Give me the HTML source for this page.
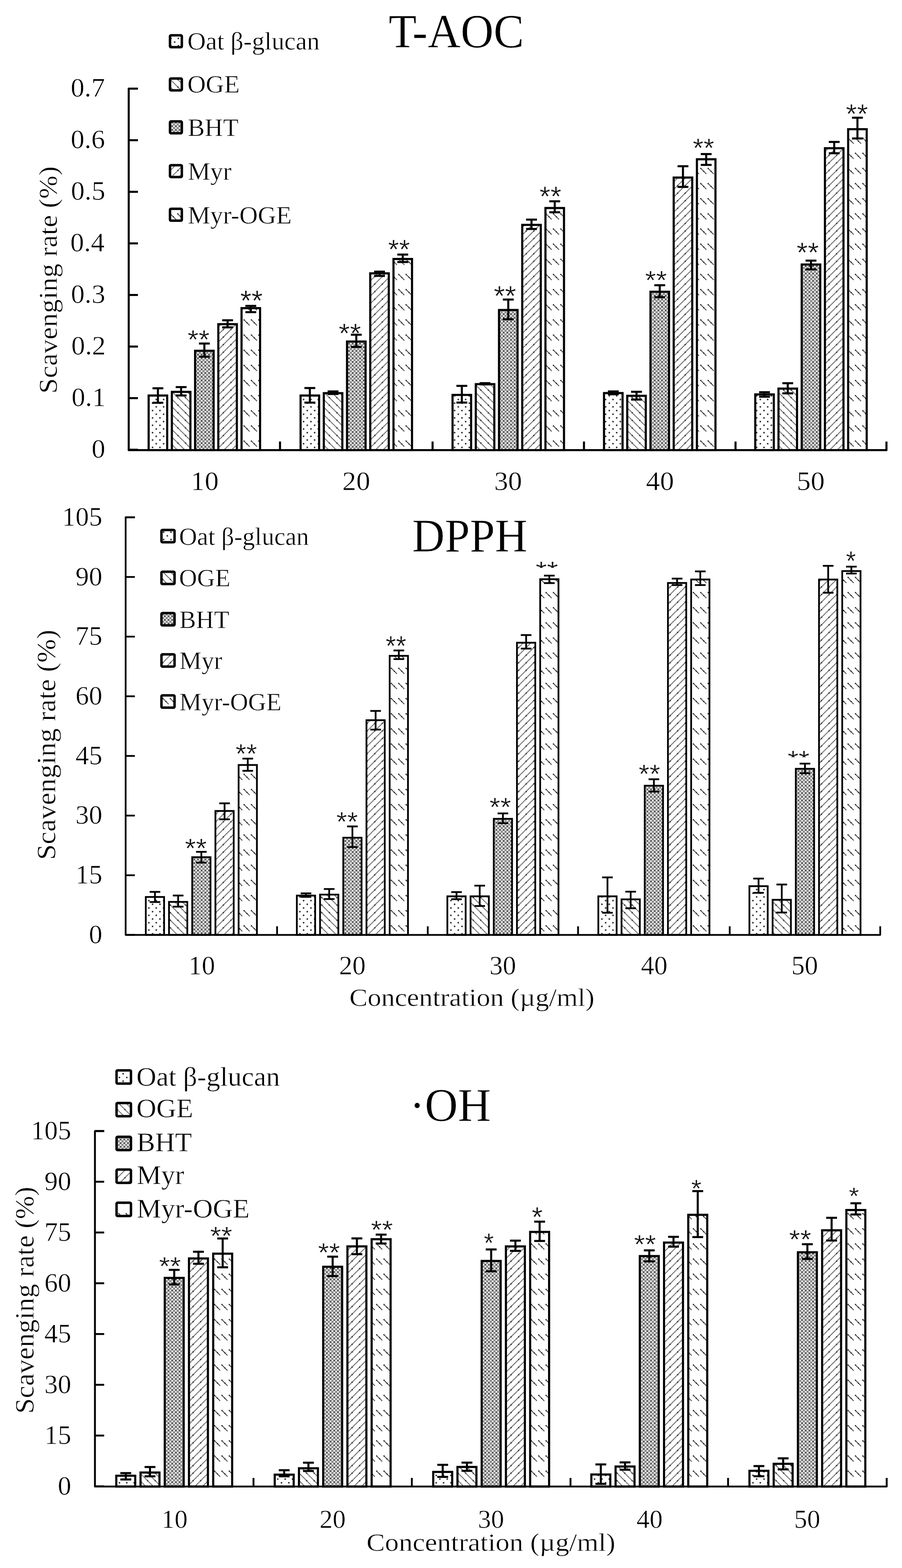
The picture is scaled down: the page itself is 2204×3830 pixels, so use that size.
<!DOCTYPE html>
<html><head><meta charset="utf-8"><title>Antioxidant activity charts</title>
<style>html,body{margin:0;padding:0;background:#fff;}body{width:2204px;height:3830px;overflow:hidden;}svg{display:block;}.s{stroke:#fff;stroke-width:0.7px;}
</style></head>
<body><svg width="2204" height="3830" viewBox="0 0 2204 3830"><defs>
<pattern id="pOat" patternUnits="userSpaceOnUse" width="18" height="18">
 <rect width="18" height="18" fill="#fff"/>
 <rect x="2" y="2" width="3.6" height="3.6" fill="#333"/>
 <rect x="11" y="11" width="3.6" height="3.6" fill="#333"/>
</pattern>
<pattern id="pOGE" patternUnits="userSpaceOnUse" width="18.5" height="18.5">
 <rect width="18.5" height="18.5" fill="#fff"/>
 <path d="M-2,-2 L20.5,20.5 M-2,16.5 L2,20.5 M16.5,-2 L20.5,2" stroke="#6a6a6a" stroke-width="2.2"/>
 <rect x="7.7" y="7.7" width="3.2" height="3.2" fill="#333"/>
</pattern>
<pattern id="pBHT" patternUnits="userSpaceOnUse" width="9" height="9">
 <rect width="9" height="9" fill="#a8a8a8"/>
 <rect x="0.75" y="0.75" width="3" height="3" fill="#fff"/>
 <rect x="5.25" y="5.25" width="3" height="3" fill="#fff"/>
 <rect x="5.25" y="0.75" width="3" height="3" fill="#3a3a3a"/>
 <rect x="0.75" y="5.25" width="3" height="3" fill="#7a7a7a"/>
</pattern>
<pattern id="pMyr" patternUnits="userSpaceOnUse" width="18.5" height="18.5">
 <rect width="18.5" height="18.5" fill="#fff"/>
 <path d="M-2,20.5 L20.5,-2 M-2,2 L2,-2 M16.5,20.5 L20.5,16.5" stroke="#6a6a6a" stroke-width="2.2"/>
 <rect x="7.7" y="7.7" width="3.2" height="3.2" fill="#333"/>
</pattern>
<pattern id="pMO" patternUnits="userSpaceOnUse" width="18" height="37">
 <rect width="18" height="37" fill="#fff"/>
 <path d="M2,4 L16,18" stroke="#555" stroke-width="2.4"/>
 <rect x="0.8" y="2.8" width="3" height="3" fill="#333"/><rect x="8" y="10" width="3" height="3" fill="#333"/>
</pattern>
<clipPath id="clipA"><rect x="1290" y="1340" width="100" height="47"/></clipPath>
<clipPath id="clipB"><rect x="1900" y="1800" width="100" height="49.5"/></clipPath></defs><rect width="2204" height="3830" fill="#fff"/><rect x="363.20" y="966.10" width="45.30" height="133.40" fill="url(#pOat)" stroke="#000" stroke-width="5.2"/>
<rect x="419.95" y="957.20" width="45.30" height="142.30" fill="url(#pOGE)" stroke="#000" stroke-width="5.2"/>
<rect x="476.70" y="856.80" width="45.30" height="242.70" fill="url(#pBHT)" stroke="#000" stroke-width="5.2"/>
<rect x="533.45" y="791.80" width="45.30" height="307.70" fill="url(#pMyr)" stroke="#000" stroke-width="5.2"/>
<rect x="590.20" y="752.70" width="45.30" height="346.80" fill="url(#pMO)" stroke="#000" stroke-width="5.2"/>
<line x1="385.85" y1="948.40" x2="385.85" y2="983.80" stroke="#000" stroke-width="5" stroke-linecap="butt"/>
<line x1="372.60" y1="948.40" x2="399.10" y2="948.40" stroke="#000" stroke-width="5" stroke-linecap="butt"/>
<line x1="372.60" y1="983.80" x2="399.10" y2="983.80" stroke="#000" stroke-width="5" stroke-linecap="butt"/>
<line x1="442.60" y1="945.50" x2="442.60" y2="966.00" stroke="#000" stroke-width="5" stroke-linecap="butt"/>
<line x1="429.35" y1="945.50" x2="455.85" y2="945.50" stroke="#000" stroke-width="5" stroke-linecap="butt"/>
<line x1="429.35" y1="966.00" x2="455.85" y2="966.00" stroke="#000" stroke-width="5" stroke-linecap="butt"/>
<line x1="499.35" y1="839.10" x2="499.35" y2="871.30" stroke="#000" stroke-width="5" stroke-linecap="butt"/>
<line x1="486.10" y1="839.10" x2="512.60" y2="839.10" stroke="#000" stroke-width="5" stroke-linecap="butt"/>
<line x1="486.10" y1="871.30" x2="512.60" y2="871.30" stroke="#000" stroke-width="5" stroke-linecap="butt"/>
<line x1="556.10" y1="782.30" x2="556.10" y2="799.60" stroke="#000" stroke-width="5" stroke-linecap="butt"/>
<line x1="542.85" y1="782.30" x2="569.35" y2="782.30" stroke="#000" stroke-width="5" stroke-linecap="butt"/>
<line x1="542.85" y1="799.60" x2="569.35" y2="799.60" stroke="#000" stroke-width="5" stroke-linecap="butt"/>
<line x1="612.85" y1="747.20" x2="612.85" y2="762.50" stroke="#000" stroke-width="5" stroke-linecap="butt"/>
<line x1="599.60" y1="747.20" x2="626.10" y2="747.20" stroke="#000" stroke-width="5" stroke-linecap="butt"/>
<line x1="599.60" y1="762.50" x2="626.10" y2="762.50" stroke="#000" stroke-width="5" stroke-linecap="butt"/>
<rect x="734.45" y="966.10" width="45.30" height="133.40" fill="url(#pOat)" stroke="#000" stroke-width="5.2"/>
<rect x="791.20" y="960.30" width="45.30" height="139.20" fill="url(#pOGE)" stroke="#000" stroke-width="5.2"/>
<rect x="847.95" y="834.20" width="45.30" height="265.30" fill="url(#pBHT)" stroke="#000" stroke-width="5.2"/>
<rect x="904.70" y="667.70" width="45.30" height="431.80" fill="url(#pMyr)" stroke="#000" stroke-width="5.2"/>
<rect x="961.45" y="632.60" width="45.30" height="466.90" fill="url(#pMO)" stroke="#000" stroke-width="5.2"/>
<line x1="757.10" y1="947.80" x2="757.10" y2="983.40" stroke="#000" stroke-width="5" stroke-linecap="butt"/>
<line x1="743.85" y1="947.80" x2="770.35" y2="947.80" stroke="#000" stroke-width="5" stroke-linecap="butt"/>
<line x1="743.85" y1="983.40" x2="770.35" y2="983.40" stroke="#000" stroke-width="5" stroke-linecap="butt"/>
<line x1="813.85" y1="956.10" x2="813.85" y2="962.40" stroke="#000" stroke-width="5" stroke-linecap="butt"/>
<line x1="800.60" y1="956.10" x2="827.10" y2="956.10" stroke="#000" stroke-width="5" stroke-linecap="butt"/>
<line x1="800.60" y1="962.40" x2="827.10" y2="962.40" stroke="#000" stroke-width="5" stroke-linecap="butt"/>
<line x1="870.60" y1="817.60" x2="870.60" y2="847.40" stroke="#000" stroke-width="5" stroke-linecap="butt"/>
<line x1="857.35" y1="817.60" x2="883.85" y2="817.60" stroke="#000" stroke-width="5" stroke-linecap="butt"/>
<line x1="857.35" y1="847.40" x2="883.85" y2="847.40" stroke="#000" stroke-width="5" stroke-linecap="butt"/>
<line x1="927.35" y1="663.50" x2="927.35" y2="673.90" stroke="#000" stroke-width="5" stroke-linecap="butt"/>
<line x1="914.10" y1="663.50" x2="940.60" y2="663.50" stroke="#000" stroke-width="5" stroke-linecap="butt"/>
<line x1="914.10" y1="673.90" x2="940.60" y2="673.90" stroke="#000" stroke-width="5" stroke-linecap="butt"/>
<line x1="984.10" y1="621.80" x2="984.10" y2="640.00" stroke="#000" stroke-width="5" stroke-linecap="butt"/>
<line x1="970.85" y1="621.80" x2="997.35" y2="621.80" stroke="#000" stroke-width="5" stroke-linecap="butt"/>
<line x1="970.85" y1="640.00" x2="997.35" y2="640.00" stroke="#000" stroke-width="5" stroke-linecap="butt"/>
<rect x="1105.80" y="964.60" width="45.30" height="134.90" fill="url(#pOat)" stroke="#000" stroke-width="5.2"/>
<rect x="1162.55" y="938.30" width="45.30" height="161.20" fill="url(#pOGE)" stroke="#000" stroke-width="5.2"/>
<rect x="1219.30" y="757.20" width="45.30" height="342.30" fill="url(#pBHT)" stroke="#000" stroke-width="5.2"/>
<rect x="1276.05" y="549.30" width="45.30" height="550.20" fill="url(#pMyr)" stroke="#000" stroke-width="5.2"/>
<rect x="1332.80" y="508.10" width="45.30" height="591.40" fill="url(#pMO)" stroke="#000" stroke-width="5.2"/>
<line x1="1128.45" y1="942.50" x2="1128.45" y2="983.30" stroke="#000" stroke-width="5" stroke-linecap="butt"/>
<line x1="1115.20" y1="942.50" x2="1141.70" y2="942.50" stroke="#000" stroke-width="5" stroke-linecap="butt"/>
<line x1="1115.20" y1="983.30" x2="1141.70" y2="983.30" stroke="#000" stroke-width="5" stroke-linecap="butt"/>
<line x1="1185.20" y1="935.90" x2="1185.20" y2="938.90" stroke="#000" stroke-width="5" stroke-linecap="butt"/>
<line x1="1171.95" y1="935.90" x2="1198.45" y2="935.90" stroke="#000" stroke-width="5" stroke-linecap="butt"/>
<line x1="1171.95" y1="938.90" x2="1198.45" y2="938.90" stroke="#000" stroke-width="5" stroke-linecap="butt"/>
<line x1="1241.95" y1="731.70" x2="1241.95" y2="779.80" stroke="#000" stroke-width="5" stroke-linecap="butt"/>
<line x1="1228.70" y1="731.70" x2="1255.20" y2="731.70" stroke="#000" stroke-width="5" stroke-linecap="butt"/>
<line x1="1228.70" y1="779.80" x2="1255.20" y2="779.80" stroke="#000" stroke-width="5" stroke-linecap="butt"/>
<line x1="1298.70" y1="536.40" x2="1298.70" y2="559.30" stroke="#000" stroke-width="5" stroke-linecap="butt"/>
<line x1="1285.45" y1="536.40" x2="1311.95" y2="536.40" stroke="#000" stroke-width="5" stroke-linecap="butt"/>
<line x1="1285.45" y1="559.30" x2="1311.95" y2="559.30" stroke="#000" stroke-width="5" stroke-linecap="butt"/>
<line x1="1355.45" y1="491.70" x2="1355.45" y2="518.50" stroke="#000" stroke-width="5" stroke-linecap="butt"/>
<line x1="1342.20" y1="491.70" x2="1368.70" y2="491.70" stroke="#000" stroke-width="5" stroke-linecap="butt"/>
<line x1="1342.20" y1="518.50" x2="1368.70" y2="518.50" stroke="#000" stroke-width="5" stroke-linecap="butt"/>
<rect x="1475.90" y="960.10" width="45.30" height="139.40" fill="url(#pOat)" stroke="#000" stroke-width="5.2"/>
<rect x="1532.65" y="966.80" width="45.30" height="132.70" fill="url(#pOGE)" stroke="#000" stroke-width="5.2"/>
<rect x="1589.40" y="712.60" width="45.30" height="386.90" fill="url(#pBHT)" stroke="#000" stroke-width="5.2"/>
<rect x="1646.15" y="433.70" width="45.30" height="665.80" fill="url(#pMyr)" stroke="#000" stroke-width="5.2"/>
<rect x="1702.90" y="389.00" width="45.30" height="710.50" fill="url(#pMO)" stroke="#000" stroke-width="5.2"/>
<line x1="1498.55" y1="956.10" x2="1498.55" y2="963.00" stroke="#000" stroke-width="5" stroke-linecap="butt"/>
<line x1="1485.30" y1="956.10" x2="1511.80" y2="956.10" stroke="#000" stroke-width="5" stroke-linecap="butt"/>
<line x1="1485.30" y1="963.00" x2="1511.80" y2="963.00" stroke="#000" stroke-width="5" stroke-linecap="butt"/>
<line x1="1555.30" y1="957.00" x2="1555.30" y2="976.00" stroke="#000" stroke-width="5" stroke-linecap="butt"/>
<line x1="1542.05" y1="957.00" x2="1568.55" y2="957.00" stroke="#000" stroke-width="5" stroke-linecap="butt"/>
<line x1="1542.05" y1="976.00" x2="1568.55" y2="976.00" stroke="#000" stroke-width="5" stroke-linecap="butt"/>
<line x1="1612.05" y1="696.70" x2="1612.05" y2="725.90" stroke="#000" stroke-width="5" stroke-linecap="butt"/>
<line x1="1598.80" y1="696.70" x2="1625.30" y2="696.70" stroke="#000" stroke-width="5" stroke-linecap="butt"/>
<line x1="1598.80" y1="725.90" x2="1625.30" y2="725.90" stroke="#000" stroke-width="5" stroke-linecap="butt"/>
<line x1="1668.80" y1="406.00" x2="1668.80" y2="456.60" stroke="#000" stroke-width="5" stroke-linecap="butt"/>
<line x1="1655.55" y1="406.00" x2="1682.05" y2="406.00" stroke="#000" stroke-width="5" stroke-linecap="butt"/>
<line x1="1655.55" y1="456.60" x2="1682.05" y2="456.60" stroke="#000" stroke-width="5" stroke-linecap="butt"/>
<line x1="1725.55" y1="376.30" x2="1725.55" y2="402.80" stroke="#000" stroke-width="5" stroke-linecap="butt"/>
<line x1="1712.30" y1="376.30" x2="1738.80" y2="376.30" stroke="#000" stroke-width="5" stroke-linecap="butt"/>
<line x1="1712.30" y1="402.80" x2="1738.80" y2="402.80" stroke="#000" stroke-width="5" stroke-linecap="butt"/>
<rect x="1845.45" y="963.40" width="45.30" height="136.10" fill="url(#pOat)" stroke="#000" stroke-width="5.2"/>
<rect x="1902.20" y="949.20" width="45.30" height="150.30" fill="url(#pOGE)" stroke="#000" stroke-width="5.2"/>
<rect x="1958.95" y="646.10" width="45.30" height="453.40" fill="url(#pBHT)" stroke="#000" stroke-width="5.2"/>
<rect x="2015.70" y="362.00" width="45.30" height="737.50" fill="url(#pMyr)" stroke="#000" stroke-width="5.2"/>
<rect x="2072.45" y="315.60" width="45.30" height="783.90" fill="url(#pMO)" stroke="#000" stroke-width="5.2"/>
<line x1="1868.10" y1="958.00" x2="1868.10" y2="969.00" stroke="#000" stroke-width="5" stroke-linecap="butt"/>
<line x1="1854.85" y1="958.00" x2="1881.35" y2="958.00" stroke="#000" stroke-width="5" stroke-linecap="butt"/>
<line x1="1854.85" y1="969.00" x2="1881.35" y2="969.00" stroke="#000" stroke-width="5" stroke-linecap="butt"/>
<line x1="1924.85" y1="936.00" x2="1924.85" y2="960.80" stroke="#000" stroke-width="5" stroke-linecap="butt"/>
<line x1="1911.60" y1="936.00" x2="1938.10" y2="936.00" stroke="#000" stroke-width="5" stroke-linecap="butt"/>
<line x1="1911.60" y1="960.80" x2="1938.10" y2="960.80" stroke="#000" stroke-width="5" stroke-linecap="butt"/>
<line x1="1981.60" y1="636.60" x2="1981.60" y2="657.90" stroke="#000" stroke-width="5" stroke-linecap="butt"/>
<line x1="1968.35" y1="636.60" x2="1994.85" y2="636.60" stroke="#000" stroke-width="5" stroke-linecap="butt"/>
<line x1="1968.35" y1="657.90" x2="1994.85" y2="657.90" stroke="#000" stroke-width="5" stroke-linecap="butt"/>
<line x1="2038.35" y1="346.70" x2="2038.35" y2="374.30" stroke="#000" stroke-width="5" stroke-linecap="butt"/>
<line x1="2025.10" y1="346.70" x2="2051.60" y2="346.70" stroke="#000" stroke-width="5" stroke-linecap="butt"/>
<line x1="2025.10" y1="374.30" x2="2051.60" y2="374.30" stroke="#000" stroke-width="5" stroke-linecap="butt"/>
<line x1="2095.10" y1="287.50" x2="2095.10" y2="338.20" stroke="#000" stroke-width="5" stroke-linecap="butt"/>
<line x1="2081.85" y1="287.50" x2="2108.35" y2="287.50" stroke="#000" stroke-width="5" stroke-linecap="butt"/>
<line x1="2081.85" y1="338.20" x2="2108.35" y2="338.20" stroke="#000" stroke-width="5" stroke-linecap="butt"/>
<path d="M337.00,216.50 L314.50,216.50 L314.50,1099.50 L2166.00,1099.50 L2166.00,1078.50" fill="none" stroke="#000" stroke-width="5" stroke-linejoin="round"/>
<line x1="314.50" y1="1098.50" x2="337.00" y2="1098.50" stroke="#000" stroke-width="5" stroke-linecap="butt"/>
<line x1="314.50" y1="972.50" x2="337.00" y2="972.50" stroke="#000" stroke-width="5" stroke-linecap="butt"/>
<line x1="314.50" y1="846.50" x2="337.00" y2="846.50" stroke="#000" stroke-width="5" stroke-linecap="butt"/>
<line x1="314.50" y1="720.50" x2="337.00" y2="720.50" stroke="#000" stroke-width="5" stroke-linecap="butt"/>
<line x1="314.50" y1="594.50" x2="337.00" y2="594.50" stroke="#000" stroke-width="5" stroke-linecap="butt"/>
<line x1="314.50" y1="468.50" x2="337.00" y2="468.50" stroke="#000" stroke-width="5" stroke-linecap="butt"/>
<line x1="314.50" y1="342.50" x2="337.00" y2="342.50" stroke="#000" stroke-width="5" stroke-linecap="butt"/>
<line x1="314.50" y1="216.50" x2="337.00" y2="216.50" stroke="#000" stroke-width="5" stroke-linecap="butt"/>
<line x1="684.20" y1="1099.50" x2="684.20" y2="1078.50" stroke="#000" stroke-width="5" stroke-linecap="butt"/>
<line x1="1057.00" y1="1099.50" x2="1057.00" y2="1078.50" stroke="#000" stroke-width="5" stroke-linecap="butt"/>
<line x1="1426.90" y1="1099.50" x2="1426.90" y2="1078.50" stroke="#000" stroke-width="5" stroke-linecap="butt"/>
<line x1="1797.20" y1="1099.50" x2="1797.20" y2="1078.50" stroke="#000" stroke-width="5" stroke-linecap="butt"/>
<text class="s" transform="translate(223.64,1118.46) scale(1.0400,1)" font-family='"Liberation Serif",serif' font-size="64.50">0</text>
<text class="s" transform="translate(174.67,992.46) scale(1.0400,1)" font-family='"Liberation Serif",serif' font-size="64.50">0.1</text>
<text class="s" transform="translate(174.34,866.46) scale(1.0400,1)" font-family='"Liberation Serif",serif' font-size="64.50">0.2</text>
<text class="s" transform="translate(173.33,740.46) scale(1.0400,1)" font-family='"Liberation Serif",serif' font-size="64.50">0.3</text>
<text class="s" transform="translate(171.66,614.46) scale(1.0400,1)" font-family='"Liberation Serif",serif' font-size="64.50">0.4</text>
<text class="s" transform="translate(173.33,488.46) scale(1.0400,1)" font-family='"Liberation Serif",serif' font-size="64.50">0.5</text>
<text class="s" transform="translate(172.66,362.46) scale(1.0400,1)" font-family='"Liberation Serif",serif' font-size="64.50">0.6</text>
<text class="s" transform="translate(172.66,236.46) scale(1.0400,1)" font-family='"Liberation Serif",serif' font-size="64.50">0.7</text>
<text class="s" transform="translate(466.02,1196.50) scale(1.0500,1)" font-family='"Liberation Serif",serif' font-size="65.00">10</text>
<text class="s" transform="translate(836.30,1196.50) scale(1.0500,1)" font-family='"Liberation Serif",serif' font-size="65.00">20</text>
<text class="s" transform="translate(1207.48,1196.50) scale(1.0500,1)" font-family='"Liberation Serif",serif' font-size="65.00">30</text>
<text class="s" transform="translate(1578.61,1196.50) scale(1.0500,1)" font-family='"Liberation Serif",serif' font-size="65.00">40</text>
<text class="s" transform="translate(1946.79,1196.50) scale(1.0500,1)" font-family='"Liberation Serif",serif' font-size="65.00">50</text>
<text transform="translate(458.32,851.55) scale(1.0647,1)" font-family='"Liberation Sans",sans-serif' font-size="64.86" fill="#111" stroke="#fff" stroke-width="0.6">**</text>
<text transform="translate(586.89,759.20) scale(1.0138,1)" font-family='"Liberation Sans",sans-serif' font-size="69.71" fill="#111" stroke="#fff" stroke-width="0.6">**</text>
<text transform="translate(827.60,837.14) scale(1.0627,1)" font-family='"Liberation Sans",sans-serif' font-size="66.00" fill="#111" stroke="#fff" stroke-width="0.6">**</text>
<text transform="translate(948.23,632.14) scale(1.0401,1)" font-family='"Liberation Sans",sans-serif' font-size="66.00" fill="#111" stroke="#fff" stroke-width="0.6">**</text>
<text transform="translate(1206.39,746.32) scale(1.0334,1)" font-family='"Liberation Sans",sans-serif' font-size="68.00" fill="#111" stroke="#fff" stroke-width="0.6">**</text>
<text transform="translate(1318.34,503.22) scale(1.0078,1)" font-family='"Liberation Sans",sans-serif' font-size="67.71" fill="#111" stroke="#fff" stroke-width="0.6">**</text>
<text transform="translate(1576.23,707.25) scale(1.0471,1)" font-family='"Liberation Sans",sans-serif' font-size="65.43" fill="#111" stroke="#fff" stroke-width="0.6">**</text>
<text transform="translate(1692.75,384.25) scale(1.0306,1)" font-family='"Liberation Sans",sans-serif' font-size="65.43" fill="#111" stroke="#fff" stroke-width="0.6">**</text>
<text transform="translate(1946.61,639.72) scale(1.0234,1)" font-family='"Liberation Sans",sans-serif' font-size="68.00" fill="#111" stroke="#fff" stroke-width="0.6">**</text>
<text transform="translate(2066.81,301.43) scale(1.0409,1)" font-family='"Liberation Sans",sans-serif' font-size="66.86" fill="#111" stroke="#fff" stroke-width="0.6">**</text>
<rect x="415.40" y="86.30" width="28.90" height="29.00" fill="url(#pOat)" stroke="#000" stroke-width="6" rx="2.5"/>
<text class="s" transform="translate(458.02,121.20) scale(1.0100,1)" font-family='"Liberation Serif",serif' font-size="61.50">Oat β-glucan</text>
<rect x="415.40" y="191.70" width="28.90" height="29.00" fill="url(#pOGE)" stroke="#000" stroke-width="6" rx="2.5"/>
<text class="s" transform="translate(458.02,226.00) scale(1.0100,1)" font-family='"Liberation Serif",serif' font-size="61.50">OGE</text>
<rect x="415.40" y="296.60" width="28.90" height="29.00" fill="url(#pBHT)" stroke="#000" stroke-width="6" rx="2.5"/>
<text class="s" transform="translate(458.64,332.40) scale(1.0100,1)" font-family='"Liberation Serif",serif' font-size="61.50">BHT</text>
<rect x="415.40" y="403.40" width="28.90" height="29.00" fill="url(#pMyr)" stroke="#000" stroke-width="6" rx="2.5"/>
<text class="s" transform="translate(458.64,439.00) scale(1.0100,1)" font-family='"Liberation Serif",serif' font-size="61.50">Myr</text>
<rect x="415.40" y="510.00" width="28.90" height="29.00" fill="url(#pMO)" stroke="#000" stroke-width="6" rx="2.5"/>
<text class="s" transform="translate(458.64,545.60) scale(1.0100,1)" font-family='"Liberation Serif",serif' font-size="61.50">Myr-OGE</text>
<text class="s" transform="translate(949.87,115.90) scale(0.9551,1)" font-family='"Liberation Serif",serif' font-size="116.82">T-AOC</text>
<text class="s" transform="translate(138.50,961.42) rotate(-90) scale(1.0630,1)" font-family='"Liberation Serif",serif' font-size="64.00">Scavenging rate (%)</text>
<rect x="356.25" y="2190.95" width="44.70" height="92.65" fill="url(#pOat)" stroke="#000" stroke-width="4.3"/>
<rect x="412.95" y="2202.95" width="44.70" height="80.65" fill="url(#pOGE)" stroke="#000" stroke-width="4.3"/>
<rect x="469.65" y="2093.75" width="44.70" height="189.85" fill="url(#pBHT)" stroke="#000" stroke-width="4.3"/>
<rect x="526.35" y="1980.85" width="44.70" height="302.75" fill="url(#pMyr)" stroke="#000" stroke-width="4.3"/>
<rect x="583.05" y="1868.55" width="44.70" height="415.05" fill="url(#pMO)" stroke="#000" stroke-width="4.3"/>
<line x1="378.60" y1="2178.50" x2="378.60" y2="2203.30" stroke="#000" stroke-width="4.3" stroke-linecap="butt"/>
<line x1="365.60" y1="2178.50" x2="391.60" y2="2178.50" stroke="#000" stroke-width="4.3" stroke-linecap="butt"/>
<line x1="365.60" y1="2203.30" x2="391.60" y2="2203.30" stroke="#000" stroke-width="4.3" stroke-linecap="butt"/>
<line x1="435.30" y1="2187.40" x2="435.30" y2="2214.60" stroke="#000" stroke-width="4.3" stroke-linecap="butt"/>
<line x1="422.30" y1="2187.40" x2="448.30" y2="2187.40" stroke="#000" stroke-width="4.3" stroke-linecap="butt"/>
<line x1="422.30" y1="2214.60" x2="448.30" y2="2214.60" stroke="#000" stroke-width="4.3" stroke-linecap="butt"/>
<line x1="492.00" y1="2080.70" x2="492.00" y2="2107.00" stroke="#000" stroke-width="4.3" stroke-linecap="butt"/>
<line x1="479.00" y1="2080.70" x2="505.00" y2="2080.70" stroke="#000" stroke-width="4.3" stroke-linecap="butt"/>
<line x1="479.00" y1="2107.00" x2="505.00" y2="2107.00" stroke="#000" stroke-width="4.3" stroke-linecap="butt"/>
<line x1="548.70" y1="1962.20" x2="548.70" y2="2001.30" stroke="#000" stroke-width="4.3" stroke-linecap="butt"/>
<line x1="535.70" y1="1962.20" x2="561.70" y2="1962.20" stroke="#000" stroke-width="4.3" stroke-linecap="butt"/>
<line x1="535.70" y1="2001.30" x2="561.70" y2="2001.30" stroke="#000" stroke-width="4.3" stroke-linecap="butt"/>
<line x1="605.40" y1="1853.00" x2="605.40" y2="1882.80" stroke="#000" stroke-width="4.3" stroke-linecap="butt"/>
<line x1="592.40" y1="1853.00" x2="618.40" y2="1853.00" stroke="#000" stroke-width="4.3" stroke-linecap="butt"/>
<line x1="592.40" y1="1882.80" x2="618.40" y2="1882.80" stroke="#000" stroke-width="4.3" stroke-linecap="butt"/>
<rect x="725.35" y="2187.55" width="44.70" height="96.05" fill="url(#pOat)" stroke="#000" stroke-width="4.3"/>
<rect x="782.05" y="2185.15" width="44.70" height="98.45" fill="url(#pOGE)" stroke="#000" stroke-width="4.3"/>
<rect x="838.75" y="2046.15" width="44.70" height="237.45" fill="url(#pBHT)" stroke="#000" stroke-width="4.3"/>
<rect x="895.45" y="1759.15" width="44.70" height="524.45" fill="url(#pMyr)" stroke="#000" stroke-width="4.3"/>
<rect x="952.15" y="1601.95" width="44.70" height="681.65" fill="url(#pMO)" stroke="#000" stroke-width="4.3"/>
<line x1="747.70" y1="2182.10" x2="747.70" y2="2190.70" stroke="#000" stroke-width="4.3" stroke-linecap="butt"/>
<line x1="734.70" y1="2182.10" x2="760.70" y2="2182.10" stroke="#000" stroke-width="4.3" stroke-linecap="butt"/>
<line x1="734.70" y1="2190.70" x2="760.70" y2="2190.70" stroke="#000" stroke-width="4.3" stroke-linecap="butt"/>
<line x1="804.40" y1="2171.50" x2="804.40" y2="2196.00" stroke="#000" stroke-width="4.3" stroke-linecap="butt"/>
<line x1="791.40" y1="2171.50" x2="817.40" y2="2171.50" stroke="#000" stroke-width="4.3" stroke-linecap="butt"/>
<line x1="791.40" y1="2196.00" x2="817.40" y2="2196.00" stroke="#000" stroke-width="4.3" stroke-linecap="butt"/>
<line x1="861.10" y1="2018.60" x2="861.10" y2="2069.10" stroke="#000" stroke-width="4.3" stroke-linecap="butt"/>
<line x1="848.10" y1="2018.60" x2="874.10" y2="2018.60" stroke="#000" stroke-width="4.3" stroke-linecap="butt"/>
<line x1="848.10" y1="2069.10" x2="874.10" y2="2069.10" stroke="#000" stroke-width="4.3" stroke-linecap="butt"/>
<line x1="917.80" y1="1736.50" x2="917.80" y2="1782.10" stroke="#000" stroke-width="4.3" stroke-linecap="butt"/>
<line x1="904.80" y1="1736.50" x2="930.80" y2="1736.50" stroke="#000" stroke-width="4.3" stroke-linecap="butt"/>
<line x1="904.80" y1="1782.10" x2="930.80" y2="1782.10" stroke="#000" stroke-width="4.3" stroke-linecap="butt"/>
<line x1="974.50" y1="1588.80" x2="974.50" y2="1609.90" stroke="#000" stroke-width="4.3" stroke-linecap="butt"/>
<line x1="961.50" y1="1588.80" x2="987.50" y2="1588.80" stroke="#000" stroke-width="4.3" stroke-linecap="butt"/>
<line x1="961.50" y1="1609.90" x2="987.50" y2="1609.90" stroke="#000" stroke-width="4.3" stroke-linecap="butt"/>
<rect x="1093.10" y="2189.35" width="44.70" height="94.25" fill="url(#pOat)" stroke="#000" stroke-width="4.3"/>
<rect x="1149.80" y="2189.35" width="44.70" height="94.25" fill="url(#pOGE)" stroke="#000" stroke-width="4.3"/>
<rect x="1206.50" y="2000.05" width="44.70" height="283.55" fill="url(#pBHT)" stroke="#000" stroke-width="4.3"/>
<rect x="1263.20" y="1569.85" width="44.70" height="713.75" fill="url(#pMyr)" stroke="#000" stroke-width="4.3"/>
<rect x="1319.90" y="1414.75" width="44.70" height="868.85" fill="url(#pMO)" stroke="#000" stroke-width="4.3"/>
<line x1="1115.45" y1="2179.00" x2="1115.45" y2="2196.40" stroke="#000" stroke-width="4.3" stroke-linecap="butt"/>
<line x1="1102.45" y1="2179.00" x2="1128.45" y2="2179.00" stroke="#000" stroke-width="4.3" stroke-linecap="butt"/>
<line x1="1102.45" y1="2196.40" x2="1128.45" y2="2196.40" stroke="#000" stroke-width="4.3" stroke-linecap="butt"/>
<line x1="1172.15" y1="2163.30" x2="1172.15" y2="2213.00" stroke="#000" stroke-width="4.3" stroke-linecap="butt"/>
<line x1="1159.15" y1="2163.30" x2="1185.15" y2="2163.30" stroke="#000" stroke-width="4.3" stroke-linecap="butt"/>
<line x1="1159.15" y1="2213.00" x2="1185.15" y2="2213.00" stroke="#000" stroke-width="4.3" stroke-linecap="butt"/>
<line x1="1228.85" y1="1986.80" x2="1228.85" y2="2010.70" stroke="#000" stroke-width="4.3" stroke-linecap="butt"/>
<line x1="1215.85" y1="1986.80" x2="1241.85" y2="1986.80" stroke="#000" stroke-width="4.3" stroke-linecap="butt"/>
<line x1="1215.85" y1="2010.70" x2="1241.85" y2="2010.70" stroke="#000" stroke-width="4.3" stroke-linecap="butt"/>
<line x1="1285.55" y1="1551.20" x2="1285.55" y2="1584.30" stroke="#000" stroke-width="4.3" stroke-linecap="butt"/>
<line x1="1272.55" y1="1551.20" x2="1298.55" y2="1551.20" stroke="#000" stroke-width="4.3" stroke-linecap="butt"/>
<line x1="1272.55" y1="1584.30" x2="1298.55" y2="1584.30" stroke="#000" stroke-width="4.3" stroke-linecap="butt"/>
<line x1="1342.25" y1="1406.00" x2="1342.25" y2="1424.30" stroke="#000" stroke-width="4.3" stroke-linecap="butt"/>
<line x1="1329.25" y1="1406.00" x2="1355.25" y2="1406.00" stroke="#000" stroke-width="4.3" stroke-linecap="butt"/>
<line x1="1329.25" y1="1424.30" x2="1355.25" y2="1424.30" stroke="#000" stroke-width="4.3" stroke-linecap="butt"/>
<rect x="1462.00" y="2189.35" width="44.70" height="94.25" fill="url(#pOat)" stroke="#000" stroke-width="4.3"/>
<rect x="1518.70" y="2196.75" width="44.70" height="86.85" fill="url(#pOGE)" stroke="#000" stroke-width="4.3"/>
<rect x="1575.40" y="1919.15" width="44.70" height="364.45" fill="url(#pBHT)" stroke="#000" stroke-width="4.3"/>
<rect x="1632.10" y="1423.95" width="44.70" height="859.65" fill="url(#pMyr)" stroke="#000" stroke-width="4.3"/>
<rect x="1688.80" y="1415.45" width="44.70" height="868.15" fill="url(#pMO)" stroke="#000" stroke-width="4.3"/>
<line x1="1484.35" y1="2143.10" x2="1484.35" y2="2229.50" stroke="#000" stroke-width="4.3" stroke-linecap="butt"/>
<line x1="1471.35" y1="2143.10" x2="1497.35" y2="2143.10" stroke="#000" stroke-width="4.3" stroke-linecap="butt"/>
<line x1="1471.35" y1="2229.50" x2="1497.35" y2="2229.50" stroke="#000" stroke-width="4.3" stroke-linecap="butt"/>
<line x1="1541.05" y1="2178.00" x2="1541.05" y2="2218.50" stroke="#000" stroke-width="4.3" stroke-linecap="butt"/>
<line x1="1528.05" y1="2178.00" x2="1554.05" y2="2178.00" stroke="#000" stroke-width="4.3" stroke-linecap="butt"/>
<line x1="1528.05" y1="2218.50" x2="1554.05" y2="2218.50" stroke="#000" stroke-width="4.3" stroke-linecap="butt"/>
<line x1="1597.75" y1="1903.40" x2="1597.75" y2="1933.50" stroke="#000" stroke-width="4.3" stroke-linecap="butt"/>
<line x1="1584.75" y1="1903.40" x2="1610.75" y2="1903.40" stroke="#000" stroke-width="4.3" stroke-linecap="butt"/>
<line x1="1584.75" y1="1933.50" x2="1610.75" y2="1933.50" stroke="#000" stroke-width="4.3" stroke-linecap="butt"/>
<line x1="1654.45" y1="1413.30" x2="1654.45" y2="1429.10" stroke="#000" stroke-width="4.3" stroke-linecap="butt"/>
<line x1="1641.45" y1="1413.30" x2="1667.45" y2="1413.30" stroke="#000" stroke-width="4.3" stroke-linecap="butt"/>
<line x1="1641.45" y1="1429.10" x2="1667.45" y2="1429.10" stroke="#000" stroke-width="4.3" stroke-linecap="butt"/>
<line x1="1711.15" y1="1395.70" x2="1711.15" y2="1429.10" stroke="#000" stroke-width="4.3" stroke-linecap="butt"/>
<line x1="1698.15" y1="1395.70" x2="1724.15" y2="1395.70" stroke="#000" stroke-width="4.3" stroke-linecap="butt"/>
<line x1="1698.15" y1="1429.10" x2="1724.15" y2="1429.10" stroke="#000" stroke-width="4.3" stroke-linecap="butt"/>
<rect x="1831.15" y="2164.55" width="44.70" height="119.05" fill="url(#pOat)" stroke="#000" stroke-width="4.3"/>
<rect x="1887.85" y="2197.85" width="44.70" height="85.75" fill="url(#pOGE)" stroke="#000" stroke-width="4.3"/>
<rect x="1944.55" y="1877.85" width="44.70" height="405.75" fill="url(#pBHT)" stroke="#000" stroke-width="4.3"/>
<rect x="2001.25" y="1415.55" width="44.70" height="868.05" fill="url(#pMyr)" stroke="#000" stroke-width="4.3"/>
<rect x="2057.95" y="1394.85" width="44.70" height="888.75" fill="url(#pMO)" stroke="#000" stroke-width="4.3"/>
<line x1="1853.50" y1="2146.00" x2="1853.50" y2="2180.80" stroke="#000" stroke-width="4.3" stroke-linecap="butt"/>
<line x1="1840.50" y1="2146.00" x2="1866.50" y2="2146.00" stroke="#000" stroke-width="4.3" stroke-linecap="butt"/>
<line x1="1840.50" y1="2180.80" x2="1866.50" y2="2180.80" stroke="#000" stroke-width="4.3" stroke-linecap="butt"/>
<line x1="1910.20" y1="2160.50" x2="1910.20" y2="2228.90" stroke="#000" stroke-width="4.3" stroke-linecap="butt"/>
<line x1="1897.20" y1="2160.50" x2="1923.20" y2="2160.50" stroke="#000" stroke-width="4.3" stroke-linecap="butt"/>
<line x1="1897.20" y1="2228.90" x2="1923.20" y2="2228.90" stroke="#000" stroke-width="4.3" stroke-linecap="butt"/>
<line x1="1966.90" y1="1865.20" x2="1966.90" y2="1888.60" stroke="#000" stroke-width="4.3" stroke-linecap="butt"/>
<line x1="1953.90" y1="1865.20" x2="1979.90" y2="1865.20" stroke="#000" stroke-width="4.3" stroke-linecap="butt"/>
<line x1="1953.90" y1="1888.60" x2="1979.90" y2="1888.60" stroke="#000" stroke-width="4.3" stroke-linecap="butt"/>
<line x1="2023.60" y1="1382.10" x2="2023.60" y2="1447.80" stroke="#000" stroke-width="4.3" stroke-linecap="butt"/>
<line x1="2010.60" y1="1382.10" x2="2036.60" y2="1382.10" stroke="#000" stroke-width="4.3" stroke-linecap="butt"/>
<line x1="2010.60" y1="1447.80" x2="2036.60" y2="1447.80" stroke="#000" stroke-width="4.3" stroke-linecap="butt"/>
<line x1="2080.30" y1="1384.10" x2="2080.30" y2="1400.90" stroke="#000" stroke-width="4.3" stroke-linecap="butt"/>
<line x1="2067.30" y1="1384.10" x2="2093.30" y2="1384.10" stroke="#000" stroke-width="4.3" stroke-linecap="butt"/>
<line x1="2067.30" y1="1400.90" x2="2093.30" y2="1400.90" stroke="#000" stroke-width="4.3" stroke-linecap="butt"/>
<path d="M329.50,1263.60 L307.00,1263.60 L307.00,2283.60 L2150.80,2283.60 L2150.80,2262.60" fill="none" stroke="#000" stroke-width="4.3" stroke-linejoin="round"/>
<line x1="307.00" y1="2283.60" x2="329.50" y2="2283.60" stroke="#000" stroke-width="4.3" stroke-linecap="butt"/>
<line x1="307.00" y1="2137.89" x2="329.50" y2="2137.89" stroke="#000" stroke-width="4.3" stroke-linecap="butt"/>
<line x1="307.00" y1="1992.17" x2="329.50" y2="1992.17" stroke="#000" stroke-width="4.3" stroke-linecap="butt"/>
<line x1="307.00" y1="1846.46" x2="329.50" y2="1846.46" stroke="#000" stroke-width="4.3" stroke-linecap="butt"/>
<line x1="307.00" y1="1700.74" x2="329.50" y2="1700.74" stroke="#000" stroke-width="4.3" stroke-linecap="butt"/>
<line x1="307.00" y1="1555.03" x2="329.50" y2="1555.03" stroke="#000" stroke-width="4.3" stroke-linecap="butt"/>
<line x1="307.00" y1="1409.31" x2="329.50" y2="1409.31" stroke="#000" stroke-width="4.3" stroke-linecap="butt"/>
<line x1="307.00" y1="1263.60" x2="329.50" y2="1263.60" stroke="#000" stroke-width="4.3" stroke-linecap="butt"/>
<line x1="677.00" y1="2283.60" x2="677.00" y2="2262.60" stroke="#000" stroke-width="4.3" stroke-linecap="butt"/>
<line x1="1045.20" y1="2283.60" x2="1045.20" y2="2262.60" stroke="#000" stroke-width="4.3" stroke-linecap="butt"/>
<line x1="1412.50" y1="2283.60" x2="1412.50" y2="2262.60" stroke="#000" stroke-width="4.3" stroke-linecap="butt"/>
<line x1="1783.00" y1="2283.60" x2="1783.00" y2="2262.60" stroke="#000" stroke-width="4.3" stroke-linecap="butt"/>
<text class="s" transform="translate(217.37,2303.89) scale(1.0000,1)" font-family='"Liberation Serif",serif' font-size="65.50">0</text>
<text class="s" transform="translate(184.62,2158.17) scale(1.0000,1)" font-family='"Liberation Serif",serif' font-size="65.50">15</text>
<text class="s" transform="translate(184.62,2012.46) scale(1.0000,1)" font-family='"Liberation Serif",serif' font-size="65.50">30</text>
<text class="s" transform="translate(184.62,1866.74) scale(1.0000,1)" font-family='"Liberation Serif",serif' font-size="65.50">45</text>
<text class="s" transform="translate(184.62,1721.03) scale(1.0000,1)" font-family='"Liberation Serif",serif' font-size="65.50">60</text>
<text class="s" transform="translate(184.62,1575.32) scale(1.0000,1)" font-family='"Liberation Serif",serif' font-size="65.50">75</text>
<text class="s" transform="translate(184.62,1429.60) scale(1.0000,1)" font-family='"Liberation Serif",serif' font-size="65.50">90</text>
<text class="s" transform="translate(151.87,1283.89) scale(1.0000,1)" font-family='"Liberation Serif",serif' font-size="65.50">105</text>
<text class="s" transform="translate(460.38,2380.00) scale(1.0000,1)" font-family='"Liberation Serif",serif' font-size="65.00">10</text>
<text class="s" transform="translate(828.44,2380.00) scale(1.0000,1)" font-family='"Liberation Serif",serif' font-size="65.00">20</text>
<text class="s" transform="translate(1196.02,2380.00) scale(1.0000,1)" font-family='"Liberation Serif",serif' font-size="65.00">30</text>
<text class="s" transform="translate(1565.90,2380.00) scale(1.0000,1)" font-family='"Liberation Serif",serif' font-size="65.00">40</text>
<text class="s" transform="translate(1933.75,2380.00) scale(1.0000,1)" font-family='"Liberation Serif",serif' font-size="65.00">50</text>
<text transform="translate(451.72,2094.83) scale(1.0244,1)" font-family='"Liberation Sans",sans-serif' font-size="67.14" fill="#111" stroke="#fff" stroke-width="0.6">**</text>
<text transform="translate(575.44,1863.53) scale(1.0147,1)" font-family='"Liberation Sans",sans-serif' font-size="66.86" fill="#111" stroke="#fff" stroke-width="0.6">**</text>
<text transform="translate(821.85,2029.93) scale(1.0106,1)" font-family='"Liberation Sans",sans-serif' font-size="66.86" fill="#111" stroke="#fff" stroke-width="0.6">**</text>
<text transform="translate(942.21,1600.52) scale(0.9559,1)" font-family='"Liberation Sans",sans-serif' font-size="67.71" fill="#111" stroke="#fff" stroke-width="0.6">**</text>
<text transform="translate(1196.05,1993.96) scale(1.0579,1)" font-family='"Liberation Sans",sans-serif' font-size="64.00" fill="#111" stroke="#fff" stroke-width="0.6">**</text>
<g clip-path="url(#clipA)">
<text transform="translate(1308.68,1418.43) scale(1.0591,1)" font-family='"Liberation Sans",sans-serif' font-size="66.86" fill="#111" stroke="#fff" stroke-width="0.6">**</text>
</g>
<text transform="translate(1560.55,1913.36) scale(1.0532,1)" font-family='"Liberation Sans",sans-serif' font-size="64.29" fill="#111" stroke="#fff" stroke-width="0.6">**</text>
<g clip-path="url(#clipB)">
<text transform="translate(1924.42,1880.43) scale(1.0288,1)" font-family='"Liberation Sans",sans-serif' font-size="66.86" fill="#111" stroke="#fff" stroke-width="0.6">**</text>
</g>
<text transform="translate(2066.95,1393.04) scale(0.9481,1)" font-family='"Liberation Sans",sans-serif' font-size="66.00" fill="#111" stroke="#fff" stroke-width="0.6">*</text>
<rect x="394.50" y="1294.40" width="32.00" height="30.00" fill="url(#pOat)" stroke="#000" stroke-width="6" rx="2.5"/>
<text class="s" transform="translate(437.56,1331.00) scale(1.0000,1)" font-family='"Liberation Serif",serif' font-size="61.00">Oat β-glucan</text>
<rect x="394.50" y="1396.50" width="32.00" height="30.00" fill="url(#pOGE)" stroke="#000" stroke-width="6" rx="2.5"/>
<text class="s" transform="translate(437.56,1432.40) scale(1.0000,1)" font-family='"Liberation Serif",serif' font-size="61.00">OGE</text>
<rect x="394.50" y="1497.50" width="32.00" height="30.00" fill="url(#pBHT)" stroke="#000" stroke-width="6" rx="2.5"/>
<text class="s" transform="translate(438.17,1533.60) scale(1.0000,1)" font-family='"Liberation Serif",serif' font-size="61.00">BHT</text>
<rect x="394.50" y="1598.20" width="32.00" height="30.00" fill="url(#pMyr)" stroke="#000" stroke-width="6" rx="2.5"/>
<text class="s" transform="translate(438.17,1634.40) scale(1.0000,1)" font-family='"Liberation Serif",serif' font-size="61.00">Myr</text>
<rect x="394.50" y="1698.50" width="32.00" height="30.00" fill="url(#pMO)" stroke="#000" stroke-width="6" rx="2.5"/>
<text class="s" transform="translate(438.17,1735.00) scale(1.0000,1)" font-family='"Liberation Serif",serif' font-size="61.00">Myr-OGE</text>
<text class="s" transform="translate(1007.09,1347.20) scale(0.9679,1)" font-family='"Liberation Serif",serif' font-size="113.89">DPPH</text>
<text class="s" transform="translate(134.60,2100.48) rotate(-90) scale(1.0440,1)" font-family='"Liberation Serif",serif' font-size="66.00">Scavenging rate (%)</text>
<text class="s" transform="translate(853.74,2457.00) scale(1.1024,1)" font-family='"Liberation Serif",serif' font-size="60.43">Concentration (µg/ml)</text>
<rect x="284.15" y="3604.60" width="46.30" height="26.40" fill="url(#pOat)" stroke="#000" stroke-width="5.2"/>
<rect x="343.35" y="3596.80" width="46.30" height="34.20" fill="url(#pOGE)" stroke="#000" stroke-width="5.2"/>
<rect x="402.55" y="3121.40" width="46.30" height="509.60" fill="url(#pBHT)" stroke="#000" stroke-width="5.2"/>
<rect x="461.75" y="3073.90" width="46.30" height="557.10" fill="url(#pMyr)" stroke="#000" stroke-width="5.2"/>
<rect x="520.95" y="3062.20" width="46.30" height="568.80" fill="url(#pMO)" stroke="#000" stroke-width="5.2"/>
<line x1="307.30" y1="3598.20" x2="307.30" y2="3613.80" stroke="#000" stroke-width="5" stroke-linecap="butt"/>
<line x1="294.05" y1="3598.20" x2="320.55" y2="3598.20" stroke="#000" stroke-width="5" stroke-linecap="butt"/>
<line x1="294.05" y1="3613.80" x2="320.55" y2="3613.80" stroke="#000" stroke-width="5" stroke-linecap="butt"/>
<line x1="366.50" y1="3583.30" x2="366.50" y2="3606.00" stroke="#000" stroke-width="5" stroke-linecap="butt"/>
<line x1="353.25" y1="3583.30" x2="379.75" y2="3583.30" stroke="#000" stroke-width="5" stroke-linecap="butt"/>
<line x1="353.25" y1="3606.00" x2="379.75" y2="3606.00" stroke="#000" stroke-width="5" stroke-linecap="butt"/>
<line x1="425.70" y1="3101.80" x2="425.70" y2="3137.30" stroke="#000" stroke-width="5" stroke-linecap="butt"/>
<line x1="412.45" y1="3101.80" x2="438.95" y2="3101.80" stroke="#000" stroke-width="5" stroke-linecap="butt"/>
<line x1="412.45" y1="3137.30" x2="438.95" y2="3137.30" stroke="#000" stroke-width="5" stroke-linecap="butt"/>
<line x1="484.90" y1="3057.50" x2="484.90" y2="3086.90" stroke="#000" stroke-width="5" stroke-linecap="butt"/>
<line x1="471.65" y1="3057.50" x2="498.15" y2="3057.50" stroke="#000" stroke-width="5" stroke-linecap="butt"/>
<line x1="471.65" y1="3086.90" x2="498.15" y2="3086.90" stroke="#000" stroke-width="5" stroke-linecap="butt"/>
<line x1="544.10" y1="3025.10" x2="544.10" y2="3095.50" stroke="#000" stroke-width="5" stroke-linecap="butt"/>
<line x1="530.85" y1="3025.10" x2="557.35" y2="3025.10" stroke="#000" stroke-width="5" stroke-linecap="butt"/>
<line x1="530.85" y1="3095.50" x2="557.35" y2="3095.50" stroke="#000" stroke-width="5" stroke-linecap="butt"/>
<rect x="671.30" y="3602.00" width="46.30" height="29.00" fill="url(#pOat)" stroke="#000" stroke-width="5.2"/>
<rect x="730.50" y="3586.40" width="46.30" height="44.60" fill="url(#pOGE)" stroke="#000" stroke-width="5.2"/>
<rect x="789.70" y="3094.20" width="46.30" height="536.80" fill="url(#pBHT)" stroke="#000" stroke-width="5.2"/>
<rect x="848.90" y="3044.40" width="46.30" height="586.60" fill="url(#pMyr)" stroke="#000" stroke-width="5.2"/>
<rect x="908.10" y="3026.90" width="46.30" height="604.10" fill="url(#pMO)" stroke="#000" stroke-width="5.2"/>
<line x1="694.45" y1="3591.10" x2="694.45" y2="3606.00" stroke="#000" stroke-width="5" stroke-linecap="butt"/>
<line x1="681.20" y1="3591.10" x2="707.70" y2="3591.10" stroke="#000" stroke-width="5" stroke-linecap="butt"/>
<line x1="681.20" y1="3606.00" x2="707.70" y2="3606.00" stroke="#000" stroke-width="5" stroke-linecap="butt"/>
<line x1="753.65" y1="3572.80" x2="753.65" y2="3593.00" stroke="#000" stroke-width="5" stroke-linecap="butt"/>
<line x1="740.40" y1="3572.80" x2="766.90" y2="3572.80" stroke="#000" stroke-width="5" stroke-linecap="butt"/>
<line x1="740.40" y1="3593.00" x2="766.90" y2="3593.00" stroke="#000" stroke-width="5" stroke-linecap="butt"/>
<line x1="812.85" y1="3069.50" x2="812.85" y2="3117.00" stroke="#000" stroke-width="5" stroke-linecap="butt"/>
<line x1="799.60" y1="3069.50" x2="826.10" y2="3069.50" stroke="#000" stroke-width="5" stroke-linecap="butt"/>
<line x1="799.60" y1="3117.00" x2="826.10" y2="3117.00" stroke="#000" stroke-width="5" stroke-linecap="butt"/>
<line x1="872.05" y1="3024.90" x2="872.05" y2="3063.50" stroke="#000" stroke-width="5" stroke-linecap="butt"/>
<line x1="858.80" y1="3024.90" x2="885.30" y2="3024.90" stroke="#000" stroke-width="5" stroke-linecap="butt"/>
<line x1="858.80" y1="3063.50" x2="885.30" y2="3063.50" stroke="#000" stroke-width="5" stroke-linecap="butt"/>
<line x1="931.25" y1="3015.70" x2="931.25" y2="3037.40" stroke="#000" stroke-width="5" stroke-linecap="butt"/>
<line x1="918.00" y1="3015.70" x2="944.50" y2="3015.70" stroke="#000" stroke-width="5" stroke-linecap="butt"/>
<line x1="918.00" y1="3037.40" x2="944.50" y2="3037.40" stroke="#000" stroke-width="5" stroke-linecap="butt"/>
<rect x="1058.60" y="3595.30" width="46.30" height="35.70" fill="url(#pOat)" stroke="#000" stroke-width="5.2"/>
<rect x="1117.80" y="3583.20" width="46.30" height="47.80" fill="url(#pOGE)" stroke="#000" stroke-width="5.2"/>
<rect x="1177.00" y="3080.00" width="46.30" height="551.00" fill="url(#pBHT)" stroke="#000" stroke-width="5.2"/>
<rect x="1236.20" y="3044.50" width="46.30" height="586.50" fill="url(#pMyr)" stroke="#000" stroke-width="5.2"/>
<rect x="1295.40" y="3009.10" width="46.30" height="621.90" fill="url(#pMO)" stroke="#000" stroke-width="5.2"/>
<line x1="1081.75" y1="3578.00" x2="1081.75" y2="3607.50" stroke="#000" stroke-width="5" stroke-linecap="butt"/>
<line x1="1068.50" y1="3578.00" x2="1095.00" y2="3578.00" stroke="#000" stroke-width="5" stroke-linecap="butt"/>
<line x1="1068.50" y1="3607.50" x2="1095.00" y2="3607.50" stroke="#000" stroke-width="5" stroke-linecap="butt"/>
<line x1="1140.95" y1="3572.60" x2="1140.95" y2="3592.70" stroke="#000" stroke-width="5" stroke-linecap="butt"/>
<line x1="1127.70" y1="3572.60" x2="1154.20" y2="3572.60" stroke="#000" stroke-width="5" stroke-linecap="butt"/>
<line x1="1127.70" y1="3592.70" x2="1154.20" y2="3592.70" stroke="#000" stroke-width="5" stroke-linecap="butt"/>
<line x1="1200.15" y1="3051.90" x2="1200.15" y2="3105.10" stroke="#000" stroke-width="5" stroke-linecap="butt"/>
<line x1="1186.90" y1="3051.90" x2="1213.40" y2="3051.90" stroke="#000" stroke-width="5" stroke-linecap="butt"/>
<line x1="1186.90" y1="3105.10" x2="1213.40" y2="3105.10" stroke="#000" stroke-width="5" stroke-linecap="butt"/>
<line x1="1259.35" y1="3030.40" x2="1259.35" y2="3055.40" stroke="#000" stroke-width="5" stroke-linecap="butt"/>
<line x1="1246.10" y1="3030.40" x2="1272.60" y2="3030.40" stroke="#000" stroke-width="5" stroke-linecap="butt"/>
<line x1="1246.10" y1="3055.40" x2="1272.60" y2="3055.40" stroke="#000" stroke-width="5" stroke-linecap="butt"/>
<line x1="1318.55" y1="2984.00" x2="1318.55" y2="3031.20" stroke="#000" stroke-width="5" stroke-linecap="butt"/>
<line x1="1305.30" y1="2984.00" x2="1331.80" y2="2984.00" stroke="#000" stroke-width="5" stroke-linecap="butt"/>
<line x1="1305.30" y1="3031.20" x2="1331.80" y2="3031.20" stroke="#000" stroke-width="5" stroke-linecap="butt"/>
<rect x="1444.95" y="3601.60" width="46.30" height="29.40" fill="url(#pOat)" stroke="#000" stroke-width="5.2"/>
<rect x="1504.15" y="3582.10" width="46.30" height="48.90" fill="url(#pOGE)" stroke="#000" stroke-width="5.2"/>
<rect x="1563.35" y="3068.10" width="46.30" height="562.90" fill="url(#pBHT)" stroke="#000" stroke-width="5.2"/>
<rect x="1622.55" y="3035.10" width="46.30" height="595.90" fill="url(#pMyr)" stroke="#000" stroke-width="5.2"/>
<rect x="1681.75" y="2967.30" width="46.30" height="663.70" fill="url(#pMO)" stroke="#000" stroke-width="5.2"/>
<line x1="1468.10" y1="3577.00" x2="1468.10" y2="3624.50" stroke="#000" stroke-width="5" stroke-linecap="butt"/>
<line x1="1454.85" y1="3577.00" x2="1481.35" y2="3577.00" stroke="#000" stroke-width="5" stroke-linecap="butt"/>
<line x1="1454.85" y1="3624.50" x2="1481.35" y2="3624.50" stroke="#000" stroke-width="5" stroke-linecap="butt"/>
<line x1="1527.30" y1="3572.00" x2="1527.30" y2="3590.00" stroke="#000" stroke-width="5" stroke-linecap="butt"/>
<line x1="1514.05" y1="3572.00" x2="1540.55" y2="3572.00" stroke="#000" stroke-width="5" stroke-linecap="butt"/>
<line x1="1514.05" y1="3590.00" x2="1540.55" y2="3590.00" stroke="#000" stroke-width="5" stroke-linecap="butt"/>
<line x1="1586.50" y1="3054.10" x2="1586.50" y2="3081.10" stroke="#000" stroke-width="5" stroke-linecap="butt"/>
<line x1="1573.25" y1="3054.10" x2="1599.75" y2="3054.10" stroke="#000" stroke-width="5" stroke-linecap="butt"/>
<line x1="1573.25" y1="3081.10" x2="1599.75" y2="3081.10" stroke="#000" stroke-width="5" stroke-linecap="butt"/>
<line x1="1645.70" y1="3021.10" x2="1645.70" y2="3045.10" stroke="#000" stroke-width="5" stroke-linecap="butt"/>
<line x1="1632.45" y1="3021.10" x2="1658.95" y2="3021.10" stroke="#000" stroke-width="5" stroke-linecap="butt"/>
<line x1="1632.45" y1="3045.10" x2="1658.95" y2="3045.10" stroke="#000" stroke-width="5" stroke-linecap="butt"/>
<line x1="1704.90" y1="2909.40" x2="1704.90" y2="3021.70" stroke="#000" stroke-width="5" stroke-linecap="butt"/>
<line x1="1691.65" y1="2909.40" x2="1718.15" y2="2909.40" stroke="#000" stroke-width="5" stroke-linecap="butt"/>
<line x1="1691.65" y1="3021.70" x2="1718.15" y2="3021.70" stroke="#000" stroke-width="5" stroke-linecap="butt"/>
<rect x="1831.25" y="3592.60" width="46.30" height="38.40" fill="url(#pOat)" stroke="#000" stroke-width="5.2"/>
<rect x="1890.45" y="3575.50" width="46.30" height="55.50" fill="url(#pOGE)" stroke="#000" stroke-width="5.2"/>
<rect x="1949.65" y="3058.80" width="46.30" height="572.20" fill="url(#pBHT)" stroke="#000" stroke-width="5.2"/>
<rect x="2008.85" y="3005.10" width="46.30" height="625.90" fill="url(#pMyr)" stroke="#000" stroke-width="5.2"/>
<rect x="2068.05" y="2955.60" width="46.30" height="675.40" fill="url(#pMO)" stroke="#000" stroke-width="5.2"/>
<line x1="1854.40" y1="3581.00" x2="1854.40" y2="3605.90" stroke="#000" stroke-width="5" stroke-linecap="butt"/>
<line x1="1841.15" y1="3581.00" x2="1867.65" y2="3581.00" stroke="#000" stroke-width="5" stroke-linecap="butt"/>
<line x1="1841.15" y1="3605.90" x2="1867.65" y2="3605.90" stroke="#000" stroke-width="5" stroke-linecap="butt"/>
<line x1="1913.60" y1="3562.10" x2="1913.60" y2="3589.10" stroke="#000" stroke-width="5" stroke-linecap="butt"/>
<line x1="1900.35" y1="3562.10" x2="1926.85" y2="3562.10" stroke="#000" stroke-width="5" stroke-linecap="butt"/>
<line x1="1900.35" y1="3589.10" x2="1926.85" y2="3589.10" stroke="#000" stroke-width="5" stroke-linecap="butt"/>
<line x1="1972.80" y1="3039.10" x2="1972.80" y2="3075.10" stroke="#000" stroke-width="5" stroke-linecap="butt"/>
<line x1="1959.55" y1="3039.10" x2="1986.05" y2="3039.10" stroke="#000" stroke-width="5" stroke-linecap="butt"/>
<line x1="1959.55" y1="3075.10" x2="1986.05" y2="3075.10" stroke="#000" stroke-width="5" stroke-linecap="butt"/>
<line x1="2032.00" y1="2974.60" x2="2032.00" y2="3030.10" stroke="#000" stroke-width="5" stroke-linecap="butt"/>
<line x1="2018.75" y1="2974.60" x2="2045.25" y2="2974.60" stroke="#000" stroke-width="5" stroke-linecap="butt"/>
<line x1="2018.75" y1="3030.10" x2="2045.25" y2="3030.10" stroke="#000" stroke-width="5" stroke-linecap="butt"/>
<line x1="2091.20" y1="2939.10" x2="2091.20" y2="2966.50" stroke="#000" stroke-width="5" stroke-linecap="butt"/>
<line x1="2077.95" y1="2939.10" x2="2104.45" y2="2939.10" stroke="#000" stroke-width="5" stroke-linecap="butt"/>
<line x1="2077.95" y1="2966.50" x2="2104.45" y2="2966.50" stroke="#000" stroke-width="5" stroke-linecap="butt"/>
<path d="M254.50,2763.00 L232.00,2763.00 L232.00,3631.00 L2166.60,3631.00 L2166.60,3610.00" fill="none" stroke="#000" stroke-width="4.6" stroke-linejoin="round"/>
<line x1="232.00" y1="3630.50" x2="254.50" y2="3630.50" stroke="#000" stroke-width="4.6" stroke-linecap="butt"/>
<line x1="232.00" y1="3506.50" x2="254.50" y2="3506.50" stroke="#000" stroke-width="4.6" stroke-linecap="butt"/>
<line x1="232.00" y1="3382.50" x2="254.50" y2="3382.50" stroke="#000" stroke-width="4.6" stroke-linecap="butt"/>
<line x1="232.00" y1="3258.50" x2="254.50" y2="3258.50" stroke="#000" stroke-width="4.6" stroke-linecap="butt"/>
<line x1="232.00" y1="3134.50" x2="254.50" y2="3134.50" stroke="#000" stroke-width="4.6" stroke-linecap="butt"/>
<line x1="232.00" y1="3010.50" x2="254.50" y2="3010.50" stroke="#000" stroke-width="4.6" stroke-linecap="butt"/>
<line x1="232.00" y1="2886.50" x2="254.50" y2="2886.50" stroke="#000" stroke-width="4.6" stroke-linecap="butt"/>
<line x1="232.00" y1="2762.50" x2="254.50" y2="2762.50" stroke="#000" stroke-width="4.6" stroke-linecap="butt"/>
<line x1="619.40" y1="3631.00" x2="619.40" y2="3610.00" stroke="#000" stroke-width="4.6" stroke-linecap="butt"/>
<line x1="1006.30" y1="3631.00" x2="1006.30" y2="3610.00" stroke="#000" stroke-width="4.6" stroke-linecap="butt"/>
<line x1="1394.00" y1="3631.00" x2="1394.00" y2="3610.00" stroke="#000" stroke-width="4.6" stroke-linecap="butt"/>
<line x1="1779.00" y1="3631.00" x2="1779.00" y2="3610.00" stroke="#000" stroke-width="4.6" stroke-linecap="butt"/>
<text class="s" transform="translate(141.37,3650.79) scale(1.0000,1)" font-family='"Liberation Serif",serif' font-size="65.50">0</text>
<text class="s" transform="translate(108.62,3526.79) scale(1.0000,1)" font-family='"Liberation Serif",serif' font-size="65.50">15</text>
<text class="s" transform="translate(108.62,3402.79) scale(1.0000,1)" font-family='"Liberation Serif",serif' font-size="65.50">30</text>
<text class="s" transform="translate(108.62,3278.79) scale(1.0000,1)" font-family='"Liberation Serif",serif' font-size="65.50">45</text>
<text class="s" transform="translate(108.62,3154.79) scale(1.0000,1)" font-family='"Liberation Serif",serif' font-size="65.50">60</text>
<text class="s" transform="translate(108.62,3030.79) scale(1.0000,1)" font-family='"Liberation Serif",serif' font-size="65.50">75</text>
<text class="s" transform="translate(108.62,2906.79) scale(1.0000,1)" font-family='"Liberation Serif",serif' font-size="65.50">90</text>
<text class="s" transform="translate(75.87,2782.79) scale(1.0000,1)" font-family='"Liberation Serif",serif' font-size="65.50">105</text>
<text class="s" transform="translate(394.60,3731.50) scale(1.0000,1)" font-family='"Liberation Serif",serif' font-size="64.00">10</text>
<text class="s" transform="translate(780.69,3731.50) scale(1.0000,1)" font-family='"Liberation Serif",serif' font-size="64.00">20</text>
<text class="s" transform="translate(1167.83,3731.50) scale(1.0000,1)" font-family='"Liberation Serif",serif' font-size="64.00">30</text>
<text class="s" transform="translate(1555.14,3731.50) scale(1.0000,1)" font-family='"Liberation Serif",serif' font-size="64.00">40</text>
<text class="s" transform="translate(1940.16,3731.50) scale(1.0000,1)" font-family='"Liberation Serif",serif' font-size="64.00">50</text>
<text transform="translate(388.42,3114.08) scale(1.1108,1)" font-family='"Liberation Sans",sans-serif' font-size="62.29" fill="#111" stroke="#fff" stroke-width="0.6">**</text>
<text transform="translate(513.62,3040.48) scale(1.1108,1)" font-family='"Liberation Sans",sans-serif' font-size="62.29" fill="#111" stroke="#fff" stroke-width="0.6">**</text>
<text transform="translate(777.12,3081.75) scale(1.0715,1)" font-family='"Liberation Sans",sans-serif' font-size="64.57" fill="#111" stroke="#fff" stroke-width="0.6">**</text>
<text transform="translate(906.22,3025.38) scale(1.1108,1)" font-family='"Liberation Sans",sans-serif' font-size="62.29" fill="#111" stroke="#fff" stroke-width="0.6">**</text>
<text transform="translate(1182.25,3059.43) scale(0.9399,1)" font-family='"Liberation Sans",sans-serif' font-size="66.57" fill="#111" stroke="#fff" stroke-width="0.6">*</text>
<text transform="translate(1299.33,2995.71) scale(0.9877,1)" font-family='"Liberation Sans",sans-serif' font-size="69.43" fill="#111" stroke="#fff" stroke-width="0.6">*</text>
<text transform="translate(1549.01,3061.55) scale(1.0616,1)" font-family='"Liberation Sans",sans-serif' font-size="65.43" fill="#111" stroke="#fff" stroke-width="0.6">**</text>
<text transform="translate(1688.69,2924.39) scale(1.0701,1)" font-family='"Liberation Sans",sans-serif' font-size="61.14" fill="#111" stroke="#fff" stroke-width="0.6">*</text>
<text transform="translate(1928.11,3049.55) scale(1.0616,1)" font-family='"Liberation Sans",sans-serif' font-size="65.43" fill="#111" stroke="#fff" stroke-width="0.6">**</text>
<text transform="translate(2074.11,2942.41) scale(1.0865,1)" font-family='"Liberation Sans",sans-serif' font-size="59.43" fill="#111" stroke="#fff" stroke-width="0.6">*</text>
<rect x="284.80" y="2614.45" width="35.20" height="32.30" fill="url(#pOat)" stroke="#000" stroke-width="6" rx="2.5"/>
<text class="s" transform="translate(333.30,2651.50) scale(1.0300,1)" font-family='"Liberation Serif",serif' font-size="65.50">Oat β-glucan</text>
<rect x="284.80" y="2694.25" width="35.20" height="32.30" fill="url(#pOGE)" stroke="#000" stroke-width="6" rx="2.5"/>
<text class="s" transform="translate(333.30,2729.00) scale(1.0300,1)" font-family='"Liberation Serif",serif' font-size="65.50">OGE</text>
<rect x="284.80" y="2776.85" width="35.20" height="32.30" fill="url(#pBHT)" stroke="#000" stroke-width="6" rx="2.5"/>
<text class="s" transform="translate(333.98,2811.80) scale(1.0300,1)" font-family='"Liberation Serif",serif' font-size="65.50">BHT</text>
<rect x="284.80" y="2856.85" width="35.20" height="32.30" fill="url(#pMyr)" stroke="#000" stroke-width="6" rx="2.5"/>
<text class="s" transform="translate(333.98,2891.60) scale(1.0300,1)" font-family='"Liberation Serif",serif' font-size="65.50">Myr</text>
<rect x="284.80" y="2937.85" width="35.20" height="32.30" fill="url(#pMO)" stroke="#000" stroke-width="6" rx="2.5"/>
<text class="s" transform="translate(333.98,2973.80) scale(1.0300,1)" font-family='"Liberation Serif",serif' font-size="65.50">Myr-OGE</text>
<text class="s" transform="translate(1000.69,2738.00) scale(0.9717,1)" font-family='"Liberation Serif",serif' font-size="115.15">·OH</text>
<text class="s" transform="translate(82.20,3452.91) rotate(-90) scale(1.0289,1)" font-family='"Liberation Serif",serif' font-size="66.00">Scavenging rate (%)</text>
<text class="s" transform="translate(895.49,3788.00) scale(1.1195,1)" font-family='"Liberation Serif",serif' font-size="60.43">Concentration (µg/ml)</text></svg></body></html>
